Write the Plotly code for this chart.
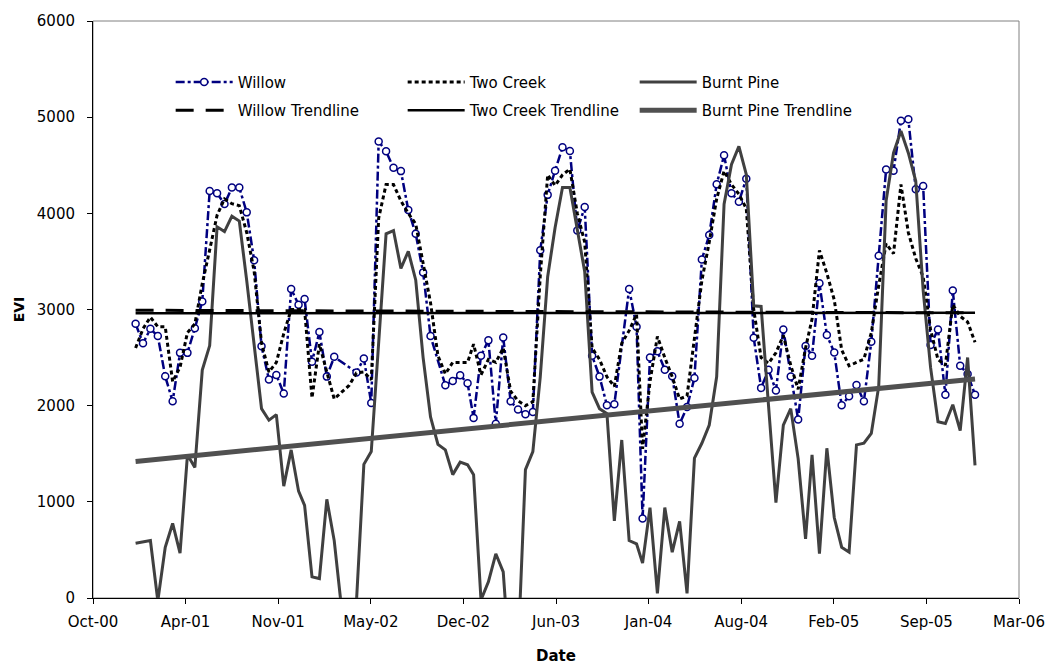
import datetime as dt
import plotly.graph_objects as go

# ---- data (16-day composites) ----
YEARS = [2001, 2002, 2003, 2004, 2005]
COMPOSITE_DOY = [1, 17, 33, 49, 65, 81, 97, 113, 129, 145, 161, 177,
                 193, 209, 225, 241, 257, 273, 289, 305, 321, 337, 353]

willow_2001 = [2851, 2648, 2799, 2724, 2305, 2045, 2549, 2549, 2806, 3084, 4233, 4209,
               4096, 4268, 4268, 4010, 3513, 2617, 2271, 2319, 2127, 3214, 3050]
willow_2002 = [3108, 2457, 2765, 2302, 2508, None, None, 2346, 2490, 2027, 4748, 4645,
               4473, 4439, 4034, 3787, 3386, 2724, None, 2213, 2257, 2316, 2233]
willow_2003 = [1873, 2518, 2679, 1811, 2710, 2045, 1959, 1911, 1935, 3615, 4192, 4443,
               4686, 4648, 3821, 4065, 2518, 2302, 2004, 2014, None, 3214, 2820]
willow_2004 = [826, 2501, 2566, 2374, 2305, 1811, 1986, 2288, 3520, 3774, 4302, 4603,
               4209, 4120, 4360, 2707, 2185, 2374, 2158, 2792, 2302, 1856, 2621]
willow_2005 = [2518, 3273, 2734, 2552, 2004, 2099, 2216, 2045, 2665, 3558, 4456, 4443,
               4963, 4978, 4250, 4285, 2632, 2792, 2113, 3198, 2415, 2329, 2113]

twocreek_2001 = [2600, 2800, 2920, 2820, 2820, 2250, 2400, 2760, 2850, 3270, 3620, 3980,
                 4150, 4100, 4080, 3800, 3400, 2650, 2350, 2450, 2750, 3000, 3000]
twocreek_2002 = [3000, 2080, 2640, 2350, 2070, 2140, 2210, 2340, 2350, 2270, 3950, 4300,
                 4300, 4130, 4000, 3890, 3480, 3070, 2520, 2330, 2450, 2450, 2450]
twocreek_2003 = [2640, 2320, 2480, 2450, 2600, 2150, 2050, 2000, 2040, 3350, 4400, 4290,
                 4400, 4460, 4000, 3700, 2600, 2480, 2300, 2200, 2650, 2780, 2950]
twocreek_2004 = [1550, 2250, 2720, 2500, 2300, 2070, 2100, 2700, 3300, 3700, 4150, 4440,
                 4300, 4200, 4050, 3000, 2500, 2440, 2550, 2730, 2420, 2170, 2600]
twocreek_2005 = [2900, 3615, 3376, 3100, 2580, 2415, 2450, 2484, 2758, 3250, 3684, 3581,
                 4300, 3800, 3530, 3340, 2790, 2480, 2420, 3050, 2930, 2870, 2660]

burntpine_2001 = [569, 585, 597, -30, 528, 775, 466, 1489, 1358, 2370, 2625, 3860,
                  3810, 3970, 3920, 3300, 2600, 1969, 1849, 1907, 1163, 1540, 1111]
burntpine_2002 = [964, 220, 202, 1026, 597, -115, -800, -40, 1390, 1523, 2650, 3787,
                  3821, 3427, 3605, 3307, 2500, 1883, 1598, 1540, 1283, 1413, 1386]
burntpine_2003 = [1283, -20, 168, 460, 271, -800, -560, 1335, 1523, 2300, 3341, 3850,
                  4268, 4268, 3821, 3393, 2141, 1969, 1917, 803, 1643, 597, 563]
burntpine_2004 = [363, 940, 48, 940, 477, 796, 48, 1454, 1609, 1798, 2300, 4096,
                  4508, 4696, 4405, 3039, 3032, 2000, 991, 1798, 1969, 1450, 614]
burntpine_2005 = [1489, 460, 1557, 837, 528, 477, 1592, 1609, 1712, 2200, 4130, 4628,
                  4857, 4628, 4336, 3200, 2398, 1832, 1815, 2010, 1740, 2501, 1379]

# trendline end values (start / end of the record)
trend_dates = ["2001-01-01", "2005-12-19"]
willow_trend = [2992, 2965]
twocreek_trend = [2960, 2966]
burntpine_trend = [1420, 2278]

tick_dates = ["2000-10-01", "2001-04-19", "2001-11-05", "2002-05-24", "2002-12-10",
              "2003-06-28", "2004-01-14", "2004-08-01", "2005-02-17", "2005-09-05",
              "2006-03-24"]

# ---- build tables ----
dates = []
for y in YEARS:
    for d in COMPOSITE_DOY:
        dates.append(dt.date(y, 1, 1) + dt.timedelta(days=d - 1))

willow = willow_2001 + willow_2002 + willow_2003 + willow_2004 + willow_2005
twocreek = twocreek_2001 + twocreek_2002 + twocreek_2003 + twocreek_2004 + twocreek_2005
burntpine = burntpine_2001 + burntpine_2002 + burntpine_2003 + burntpine_2004 + burntpine_2005

FONT = "DejaVu Sans, Verdana, sans-serif"
FS = 15
fig = go.Figure()

fig.add_trace(go.Scatter(
    x=dates, y=willow, name="Willow", mode="lines+markers", connectgaps=True,
    line=dict(color="#000080", width=2.5, dash="9px,3px,3px,3px"),
    marker=dict(symbol="circle", size=7, color="white",
                line=dict(color="#000080", width=1.5)),
    legend="legend", legendrank=1))
fig.add_trace(go.Scatter(
    x=dates, y=twocreek, name="Two Creek", mode="lines",
    line=dict(color="black", width=3, dash="4px,3px"),
    legend="legend", legendrank=2))
fig.add_trace(go.Scatter(
    x=dates, y=burntpine, name="Burnt Pine", mode="lines",
    line=dict(color="#404040", width=3),
    legend="legend", legendrank=3))
fig.add_trace(go.Scatter(
    x=trend_dates, y=willow_trend, name="Willow Trendline", mode="lines",
    line=dict(color="black", width=3, dash="18px,12px"),
    legend="legend2", legendrank=4))
fig.add_trace(go.Scatter(
    x=trend_dates, y=twocreek_trend, name="Two Creek Trendline", mode="lines",
    line=dict(color="black", width=2.5),
    legend="legend2", legendrank=5))
fig.add_trace(go.Scatter(
    x=trend_dates, y=burntpine_trend, name="Burnt Pine Trendline", mode="lines",
    line=dict(color="#505050", width=5),
    legend="legend2", legendrank=6))

legend_common = dict(orientation="h", xanchor="left", yanchor="middle",
                     entrywidth=160, itemwidth=57, bgcolor="rgba(0,0,0,0)",
                     font=dict(family=FONT, size=FS, color="black"),
                     itemclick=False, itemdoubleclick=False)
LEG_X = (171 - 93) / 930

fig.update_layout(
    width=1057, height=670,
    margin=dict(l=93, r=34, t=15, b=72),
    paper_bgcolor="white", plot_bgcolor="white",
    font=dict(family=FONT, size=FS, color="black"),
    showlegend=True,
    legend=dict(x=LEG_X, y=(598 - 77) / 583, **legend_common),
    legend2=dict(x=LEG_X, y=(598 - 105.5) / 583, **legend_common),
    xaxis=dict(type="date", range=["2000-10-01", "2006-03-24"],
               tickvals=tick_dates, tickformat="%b-%y",
               ticks="outside", ticklen=5, tickcolor="black",
               showline=True, linecolor="black", linewidth=1,
               showgrid=False, zeroline=False, ticklabelstandoff=5,
               tickfont=dict(family=FONT, size=FS, color="black")),
    yaxis=dict(range=[0, 6000], dtick=1000, tick0=0,
               ticks="outside", ticklen=5, tickcolor="black",
               showline=True, linecolor="black", linewidth=1,
               showgrid=False, zeroline=False, ticklabelstandoff=9,
               tickfont=dict(family=FONT, size=FS, color="black")),
    shapes=[dict(type="rect", xref="paper", yref="paper", x0=0, x1=1, y0=0, y1=1,
                 line=dict(color="#808080", width=1), layer="below")],
    annotations=[
        dict(text="<b>EVI</b>", xref="paper", yref="paper",
             x=(18.5 - 93) / 930, y=0.5, xanchor="center", yanchor="middle",
             textangle=-90, showarrow=False,
             font=dict(family=FONT, size=14, color="black")),
        dict(text="<b>Date</b>", xref="paper", yref="paper",
             x=0.5, y=(598 - 657) / 583, xanchor="center", yanchor="middle",
             showarrow=False,
             font=dict(family=FONT, size=FS, color="black")),
    ],
)

fig.write_html("out.html")
